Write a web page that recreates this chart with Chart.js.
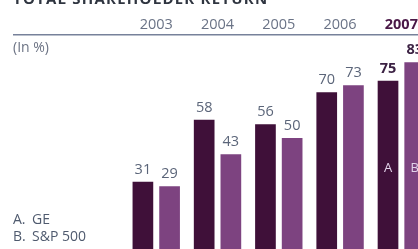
<!DOCTYPE html>
<html>
<head>
<meta charset="utf-8">
<script src="https://cdn.jsdelivr.net/npm/chart.js@4/dist/chart.umd.min.js"></script>
<style>
html,body{margin:0;padding:0;overflow:hidden;background:#fff;width:418px;height:249px;}
canvas{display:block;}
</style>
</head>
<body>
<canvas id="c" width="440" height="253"></canvas>
<script>
const categories = ['2003', '2004', '2005', '2006', '2007'];
const geValues = [31, 58, 56, 70, 75];
const spValues = [29, 43, 50, 73, 83];
const seriesNames = ['GE', 'S&P 500'];
const seriesLetters = ['A', 'B'];
const titleText = 'TOTAL SHAREHOLDER RETURN';
const unitText = '(In %)';

const FONT = '"Open Sans", "Noto Sans", sans-serif';
const GE_COLOR = '#3f1039';
const SP_COLOR = '#7d4380';
const TEXT_COLOR = '#5b6579';
const HILITE = '#4a1847';

const overlay = {
  id: 'overlay',
  afterDraw(chart) {
    const ctx = chart.ctx;
    const area = chart.chartArea;
    ctx.save();
    // title (cut at top)
    ctx.font = 'bold 15px ' + FONT;
    ctx.fillStyle = '#2f3540';
    ctx.textAlign = 'left';
    ctx.textBaseline = 'alphabetic';
    const w = ctx.measureText(titleText).width;
    ctx.letterSpacing = ((254 - w) / (titleText.length - 1)).toFixed(2) + 'px';
    ctx.fillText(titleText, 13, 4);
    ctx.letterSpacing = '0px';
    // rule
    ctx.strokeStyle = '#77819a';
    ctx.lineWidth = 1.5;
    ctx.beginPath();
    ctx.moveTo(13, area.top);
    ctx.lineTo(chart.width, area.top);
    ctx.stroke();
    // unit
    ctx.font = '14px ' + FONT;
    ctx.fillStyle = '#6c7384';
    ctx.textBaseline = 'middle';
    ctx.fillText(unitText, 13, 48);
    // legend
    ctx.fillStyle = '#4f5a6e';
    ctx.fillText(seriesLetters[0] + '.', 13, 220);
    ctx.fillText(seriesNames[0], 32, 220);
    ctx.fillText(seriesLetters[1] + '.', 13, 237);
    ctx.fillText(seriesNames[1], 32, 237);
    // value labels
    const last = categories.length - 1;
    chart.data.datasets.forEach((ds, di) => {
      const meta = chart.getDatasetMeta(di);
      meta.data.forEach((bar, i) => {
        ctx.textAlign = 'center';
        ctx.textBaseline = 'alphabetic';
        if (i === last) {
          ctx.font = 'bold 14.5px ' + FONT;
          ctx.fillStyle = '#3b2143';
        } else {
          ctx.font = '14.5px ' + FONT;
          ctx.fillStyle = TEXT_COLOR;
        }
        ctx.fillText(String(ds.data[i]), bar.x, bar.y - 8);
        if (i === last) {
          ctx.font = '13px ' + FONT;
          ctx.fillStyle = '#e2d3ea';
          ctx.textBaseline = 'middle';
          ctx.fillText(seriesLetters[di], bar.x, chart.scales.y.getPixelForValue(37));
        }
      });
    });
    ctx.restore();
  }
};

new Chart(document.getElementById('c'), {
  type: 'bar',
  data: {
    labels: categories,
    datasets: [
      { label: seriesNames[0], data: geValues, backgroundColor: GE_COLOR },
      { label: seriesNames[1], data: spValues, backgroundColor: SP_COLOR }
    ]
  },
  options: {
    responsive: false,
    animation: false,
    devicePixelRatio: 1,
    layout: { padding: { left: 125.6, right: 8, top: 15.7, bottom: 0 } },
    datasets: { bar: { categoryPercentage: 0.871, barPercentage: 0.775 } },
    plugins: { legend: { display: false }, tooltip: { enabled: false }, title: { display: false } },
    scales: {
      x: {
        position: 'top',
        grid: { display: false, drawTicks: false },
        border: { display: false },
        ticks: {
          padding: 0.8,
          color: ctx => ctx.index === 4 ? HILITE : '#6a7386',
          font: ctx => ctx.index === 4 ? { family: FONT, size: 14.5, weight: 'bold', lineHeight: 1.2 } : { family: FONT, size: 14.5, lineHeight: 1.2 }
        }
      },
      y: {
        display: false,
        min: 0,
        max: 95
      }
    }
  },
  plugins: [overlay]
});
</script>
</body>
</html>
